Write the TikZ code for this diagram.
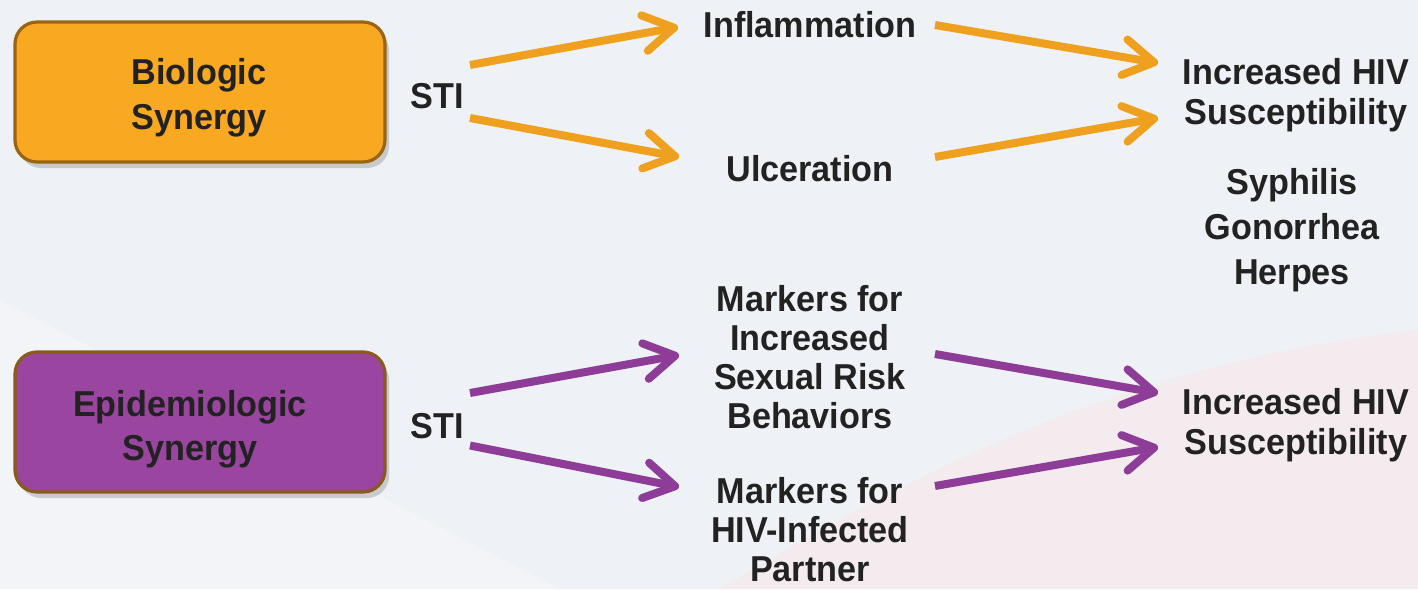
\documentclass[tikz,border=0pt]{standalone}
\usepackage{fontspec}
\setmainfont[FakeStretch=0.95]{Liberation Sans}
\usetikzlibrary{arrows.meta,shadows}
\definecolor{bg}{HTML}{EEF1F5}
\definecolor{bgpink}{HTML}{F4EBEE}
\definecolor{bglight}{HTML}{F2F4F7}
\definecolor{obox}{HTML}{F8A921}
\definecolor{oedge}{HTML}{9A6412}
\definecolor{pbox}{HTML}{9A45A0}
\definecolor{pedge}{HTML}{8A5A1A}
\definecolor{oarrow}{HTML}{EFA01E}
\definecolor{parrow}{HTML}{8D3C97}
\definecolor{txt}{HTML}{222222}
\tikzset{
  lbl/.style={text=txt, font=\fontsize{18}{20}\selectfont\bfseries, align=center, inner sep=0pt},
  box/.style={rounded corners=11pt, minimum width=185pt, minimum height=70pt, line width=1.6pt,
    drop shadow={shadow xshift=2pt, shadow yshift=-3pt, opacity=0.35}},
  obx/.style={box, fill=obox, draw=oedge},
  pbx/.style={box, fill=pbox, draw=pedge},
  conn/.style={line width=4pt, -{Straight Barb[length=15pt, width=18pt, round]}},
  oarr/.style={conn, draw=oarrow},
  parr/.style={conn, draw=parrow}
}
\begin{document}
\begin{tikzpicture}[x=0.5pt, y=-0.5pt]
\fill[bg] (0,0) rectangle (1418,589);
\fill[bglight] (0,300) -- (560,589) -- (0,589) -- cycle;
\fill[bgpink] (720,589) .. controls (950,450) and (1150,360) .. (1418,330) -- (1418,589) -- cycle;
\useasboundingbox (0,0) rectangle (1418,589);

% boxes
\node[obx] (bio) at (200,92) {};
\node[lbl] (biot) at (199,98) {Biologic\\[2.5pt]Synergy};
\node[pbx] (epi) at (200,422) {};
\node[lbl] (epit) at (190,429) {Epidemiologic\\[2pt]Synergy};

% STI labels
\node[lbl] (sti1) at (437,96) {STI};
\node[lbl] (sti2) at (437,426) {STI};

% middle labels
\node[lbl] (infl) at (810,25) {Inflammation};
\node[lbl] (ulc) at (810,169) {Ulceration};
\node[lbl, font=\fontsize{18}{19.5}\selectfont\bfseries] (mk1) at (810,357.5) {Markers for\\Increased\\Sexual Risk\\Behaviors};
\node[lbl, font=\fontsize{18}{19.5}\selectfont\bfseries] (mk2) at (810,530) {Markers for\\HIV-Infected\\Partner};

% right labels
\node[lbl] (hiv1) at (1296,95.5) {Increased HIV\\Susceptibility};
\node[lbl, font=\fontsize{18}{22.5}\selectfont\bfseries] (dis) at (1292,230) {Syphilis\\Gonorrhea\\Herpes};
\node[lbl] (hiv2) at (1296,425.5) {Increased HIV\\Susceptibility};

% orange arrows
\draw[oarr] ([shift={(33,-31)}]sti1.center) -- ([shift={(-132,2)}]infl.center);
\draw[oarr] ([shift={(33,22)}]sti1.center) -- ([shift={(-131,-12)}]ulc.center);
\draw[oarr] ([shift={(125,0)}]infl.center) -- ([shift={(-138,-32.5)}]hiv1.center);
\draw[oarr] ([shift={(125,-12)}]ulc.center) -- ([shift={(-138,22.5)}]hiv1.center);

% purple arrows
\draw[parr] ([shift={(33,-33)}]sti2.center) -- ([shift={(-131,-2.5)}]mk1.center);
\draw[parr] ([shift={(33,19.5)}]sti2.center) -- ([shift={(-131,-43)}]mk2.center);
\draw[parr] ([shift={(125,-3.5)}]mk1.center) -- ([shift={(-138,-32.5)}]hiv2.center);
\draw[parr] ([shift={(125,-44)}]mk2.center) -- ([shift={(-138,21.5)}]hiv2.center);
\end{tikzpicture}
\end{document}
